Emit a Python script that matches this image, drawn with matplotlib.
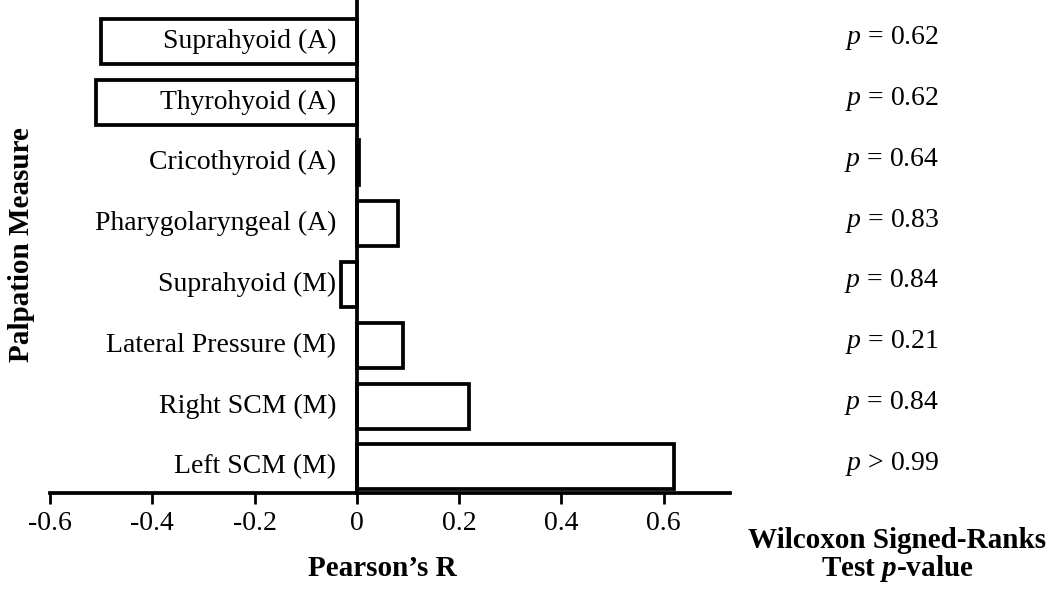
import matplotlib
matplotlib.use("Agg")
import matplotlib.pyplot as plt
import matplotlib.transforms as mtransforms

plt.rcParams['font.family'] = ['Liberation Serif', 'DejaVu Serif']
plt.rcParams['mathtext.fontset'] = 'custom'
plt.rcParams['mathtext.rm'] = 'Liberation Serif'
plt.rcParams['mathtext.it'] = 'Liberation Serif:italic'
plt.rcParams['mathtext.bf'] = 'Liberation Serif:bold'
plt.rcParams['mathtext.bfit'] = 'Liberation Serif:italic:bold'

measures = ["Suprahyoid (A)", "Thyrohyoid (A)", "Cricothyroid (A)", "Pharygolaryngeal (A)",
            "Suprahyoid (M)", "Lateral Pressure (M)", "Right SCM (M)", "Left SCM (M)"]
pearson_r = [-0.50, -0.51, 0.005, 0.08, -0.03, 0.09, 0.22, 0.62]
p_labels = ["$p$ = 0.62", "$p$ = 0.62", "$p$ = 0.64", "$p$ = 0.83",
            "$p$ = 0.84", "$p$ = 0.21", "$p$ = 0.84", "$p$ > 0.99"]
x_ticks = [-0.6, -0.4, -0.2, 0, 0.2, 0.4, 0.6]
x_ticklabels = ["-0.6", "-0.4", "-0.2", "0", "0.2", "0.4", "0.6"]

fig = plt.figure(figsize=(10.5, 5.9), dpi=100)
ax = fig.add_axes([50/1050, 1 - 493/590, (730 - 50)/1050, 493/590])

ypos = list(range(len(measures)))
ax.barh(ypos, pearson_r, height=0.74, color='white', edgecolor='black', linewidth=2.7, zorder=2)

ax.set_xlim(-0.6, 0.73)
ax.set_ylim(7.43, -0.68)

for s in ['top', 'right']:
    ax.spines[s].set_visible(False)
ax.spines['left'].set_position(('data', 0))
ax.spines['left'].set_linewidth(2.7)
ax.spines['bottom'].set_linewidth(2.7)
ax.spines['left'].set_zorder(3)

ax.set_yticks([])
ax.set_xticks(x_ticks)
ax.set_xticklabels(x_ticklabels, fontsize=20)
ax.tick_params(axis='x', direction='out', length=8, width=2.0, pad=5)

for y, lab in zip(ypos, measures):
    ax.text(-0.04, y, lab, ha='right', va='center', fontsize=20)

trans = mtransforms.blended_transform_factory(fig.transFigure, ax.transData)
for y, lab in zip(ypos, p_labels):
    fig.text(892/1050, y - 0.05, lab, ha='center', va='center', fontsize=20, transform=trans)

fig.text(22/1050, 1 - 245/590, "Palpation Measure", rotation=90, ha='center', va='center',
         fontsize=21, fontweight='bold')
fig.text(382/1050, 1 - 568/590, "Pearson\u2019s R", ha='center', va='center',
         fontsize=21, fontweight='bold')
fig.text(897/1050, 1 - 541/590, "Wilcoxon Signed-Ranks", ha='center', va='center',
         fontsize=21, fontweight='bold')
fig.text(897/1050, 1 - 569/590, "Test $\\mathbfit{p}$-value", ha='center', va='center',
         fontsize=21, fontweight='bold')

fig.savefig("out.png", dpi=100)
